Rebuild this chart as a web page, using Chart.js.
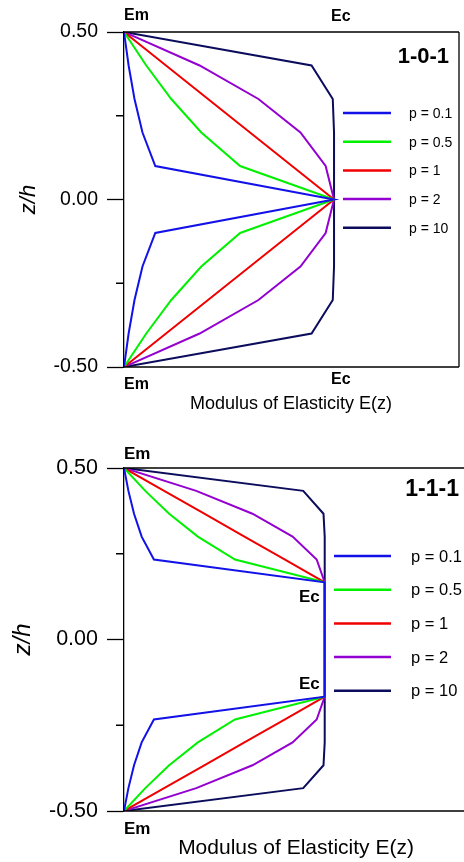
<!DOCTYPE html>
<html>
<head>
<meta charset="utf-8">
<script src="https://cdn.jsdelivr.net/npm/chart.js@4.4.1/dist/chart.umd.min.js"></script>
<style>
  body { margin: 0; background: #fff; width: 464px; height: 862px; overflow: hidden; position: relative; }
  canvas { position: absolute; left: 0; }
</style>
</head>
<body>
<canvas id="chartTop" width="464" height="430" style="top:0px"></canvas>
<canvas id="chartBot" width="464" height="432" style="top:430px"></canvas>
<script>
// series names and colours
const pLabels = ['p = 0.1', 'p = 0.5', 'p = 1', 'p = 2', 'p = 10'];
const pColors = ['#1212e8', '#00f000', '#f00000', '#9400d0', '#0c0c5c'];

// 1-0-1 sandwich : z/h and E(z) scaled so that Em = 0, Ec = 1
const zTop = [0.5, 0.4, 0.3, 0.2, 0.1, 0, -0.1, -0.2, -0.3, -0.4, -0.5];
const eTop01 = [0, 0.022, 0.05, 0.088, 0.149, 1, 0.149, 0.088, 0.05, 0.022, 0];
const eTop05 = [0, 0.106, 0.225, 0.368, 0.553, 1, 0.553, 0.368, 0.225, 0.106, 0];
const eTop1 = [0, 0.2, 0.4, 0.6, 0.8, 1, 0.8, 0.6, 0.4, 0.2, 0];
const eTop2 = [0, 0.36, 0.64, 0.84, 0.96, 1, 0.96, 0.84, 0.64, 0.36, 0];
const eTop10 = [0, 0.893, 0.994, 1, 1, 1, 1, 1, 0.994, 0.893, 0];

// 1-1-1 sandwich (ceramic core between z/h = -1/6 and 1/6)
const zBot = [0.5, 0.4333, 0.3667, 0.3, 0.2333, 0.1667, -0.1667, -0.2333, -0.3, -0.3667, -0.4333, -0.5];
const eBot01 = [0, 0.022, 0.05, 0.088, 0.149, 1, 1, 0.149, 0.088, 0.05, 0.022, 0];
const eBot05 = [0, 0.106, 0.225, 0.368, 0.553, 1, 1, 0.553, 0.368, 0.225, 0.106, 0];
const eBot1 = [0, 0.2, 0.4, 0.6, 0.8, 1, 1, 0.8, 0.6, 0.4, 0.2, 0];
const eBot2 = [0, 0.36, 0.64, 0.84, 0.96, 1, 1, 0.96, 0.84, 0.64, 0.36, 0];
const eBot10 = [0, 0.893, 0.994, 1, 1, 1, 1, 1, 1, 0.994, 0.893, 0];

const yTicks = [-0.5, -0.25, 0, 0.25, 0.5];
const FONT = '"Liberation Sans", Arial, sans-serif';

function makeSets(z, series) {
    return series.map((e, i) => ({
        label: pLabels[i],
        data: z.map((zz, k) => ({ x: e[k], y: zz })),
        borderColor: pColors[i],
        backgroundColor: pColors[i],
        borderWidth: 2,
        pointRadius: 0,
        showLine: true,
        tension: 0
    }));
}

// frame, minor ticks, labels and the legend
function decoPlugin(d) {
    return {
        id: 'deco',
        afterDraw(chart) {
            const ctx = chart.ctx, a = chart.chartArea;
            const xs = chart.scales.x, ys = chart.scales.y;
            const xc = xs.getPixelForValue(1);
            ctx.save();
            ctx.strokeStyle = '#000';
            ctx.lineWidth = 1.3;
            ctx.beginPath();
            ctx.moveTo(a.left, a.top); ctx.lineTo(d.frameRight, a.top);
            ctx.moveTo(a.left, a.bottom); ctx.lineTo(d.frameRight, a.bottom);
            if (d.box) { ctx.moveTo(a.right, a.top); ctx.lineTo(a.right, a.bottom); }
            [0.25, -0.25].forEach(v => {
                const y = ys.getPixelForValue(v);
                ctx.moveTo(a.left - 8, y); ctx.lineTo(a.left, y);
            });
            ctx.stroke();

            ctx.fillStyle = '#000';
            ctx.textBaseline = 'middle';
            ctx.font = 'bold ' + d.emSize + 'px ' + FONT;
            ctx.textAlign = 'left';
            ctx.fillText('Em', a.left, d.emTop);
            ctx.fillText('Em', a.left, d.emBot);
            ctx.textAlign = d.ecAlign;
            ctx.fillText('Ec', xc + d.ecDx, d.ecTop);
            ctx.fillText('Ec', xc + d.ecDx, d.ecBot);

            ctx.font = 'bold ' + d.titleSize + 'px ' + FONT;
            ctx.textAlign = 'right';
            ctx.fillText(d.title, d.titleX, d.titleY);

            ctx.font = d.axisSize + 'px ' + FONT;
            ctx.textAlign = 'center';
            ctx.fillText('Modulus of Elasticity E(z)', d.axisX, d.axisY);

            ctx.save();
            ctx.translate(d.zhX, (a.top + a.bottom) / 2);
            ctx.rotate(-Math.PI / 2);
            ctx.font = 'italic ' + d.zhSize + 'px ' + FONT;
            ctx.fillText('z/h', 0, 0);
            ctx.restore();

            ctx.font = d.legSize + 'px ' + FONT;
            ctx.textAlign = 'left';
            chart.data.datasets.forEach((ds, i) => {
                const y = d.legY + i * d.legGap;
                ctx.strokeStyle = ds.borderColor;
                ctx.lineWidth = 2.5;
                ctx.beginPath();
                ctx.moveTo(d.legX1, y); ctx.lineTo(d.legX2, y);
                ctx.stroke();
                ctx.fillText(ds.label, d.legTx, y + 1);
            });
            ctx.restore();
        }
    };
}

function makeChart(id, z, series, xMax, pad, tickSize, d) {
    return new Chart(document.getElementById(id), {
        type: 'scatter',
        data: { datasets: makeSets(z, series) },
        options: {
            responsive: false,
            animation: false,
            devicePixelRatio: 1,
            layout: { padding: pad },
            plugins: { legend: { display: false }, tooltip: { enabled: false } },
            scales: {
                x: { type: 'linear', min: 0, max: xMax, display: false },
                y: {
                    type: 'linear', min: -0.5, max: 0.5,
                    afterFit: s => { s.width = 124; },
                    afterBuildTicks: s => { s.ticks = yTicks.map(v => ({ value: v })); },
                    ticks: {
                        padding: 9, color: '#000',
                        font: { family: FONT, size: tickSize },
                        callback: v => (Math.abs(v) === 0.25 ? '' : v.toFixed(2))
                    },
                    grid: {
                        drawOnChartArea: false, tickLength: 17, tickWidth: 1.3,
                        tickColor: c => (Math.abs(c.tick.value) === 0.25 ? 'rgba(0,0,0,0)' : '#000')
                    },
                    border: { color: '#000', width: 1.3 }
                }
            }
        },
        plugins: [decoPlugin(d)]
    });
}

makeChart('chartTop', zTop, [eTop01, eTop05, eTop1, eTop2, eTop10], 1.595,
    { left: 0, right: 5, top: 32, bottom: 63 }, 19.5, {
        box: true, frameRight: 459, title: '1-0-1', titleSize: 22, titleX: 449, titleY: 57,
        emSize: 16, emTop: 16, emBot: 385, ecAlign: 'left', ecDx: -3, ecTop: 17, ecBot: 380,
        axisSize: 18, axisX: 291, axisY: 404, zhX: 29, zhSize: 22,
        legSize: 14, legX1: 343, legX2: 391, legTx: 409, legY: 113, legGap: 28.7
    });

makeChart('chartBot', zBot, [eBot01, eBot05, eBot1, eBot2, eBot10], 1.694,
    { left: 0, right: 0, top: 38, bottom: 51 }, 21.5, {
        box: false, frameRight: 464, title: '1-1-1', titleSize: 23, titleX: 459, titleY: 60,
        emSize: 17, emTop: 24, emBot: 399, ecAlign: 'right', ecDx: -5, ecTop: 167, ecBot: 254,
        axisSize: 21, axisX: 296, axisY: 418, zhX: 23, zhSize: 24,
        legSize: 16.5, legX1: 334, legX2: 391, legTx: 411, legY: 126, legGap: 33.7
    });
</script>
</body>
</html>
